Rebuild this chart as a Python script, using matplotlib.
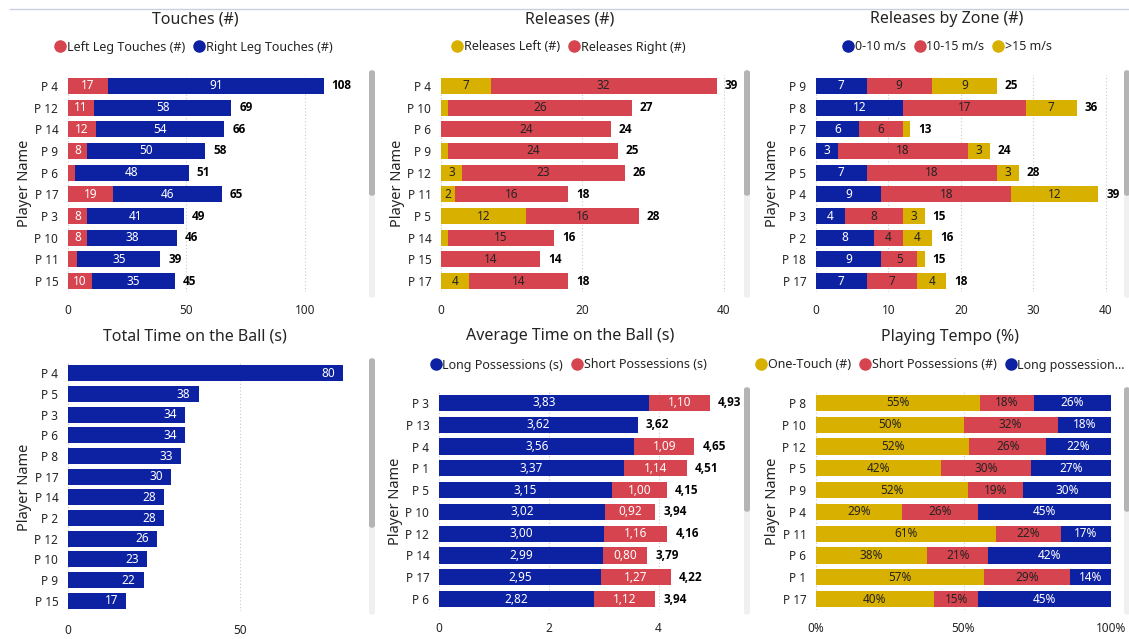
import numpy as np
import matplotlib
matplotlib.use("Agg")
import matplotlib.pyplot as plt
from matplotlib.lines import Line2D
from matplotlib.patches import FancyBboxPatch

plt.rcParams['font.family'] = ['Noto Sans', 'DejaVu Sans']

W, H = 1129, 639
BLUE = '#0d22a3'
RED = '#d6444f'
YELLOW = '#d8b000'
TXT = '#252423'
BOLD_FONT = ['Open Sans', 'Lato', 'DejaVu Sans']

# --- data ---
touch_players = ['P 4', 'P 12', 'P 14', 'P 9', 'P 6', 'P 17', 'P 3', 'P 10', 'P 11', 'P 15']
touch_left = [17, 11, 12, 8, 3, 19, 8, 8, 4, 10]
touch_right = [91, 58, 54, 50, 48, 46, 41, 38, 35, 35]

rel_players = ['P 4', 'P 10', 'P 6', 'P 9', 'P 12', 'P 11', 'P 5', 'P 14', 'P 15', 'P 17']
rel_left = [7, 1, 0, 1, 3, 2, 12, 1, 0, 4]
rel_right = [32, 26, 24, 24, 23, 16, 16, 15, 14, 14]

zone_players = ['P 9', 'P 8', 'P 7', 'P 6', 'P 5', 'P 4', 'P 3', 'P 2', 'P 18', 'P 17']
zone_slow = [7, 12, 6, 3, 7, 9, 4, 8, 9, 7]
zone_mid = [9, 17, 6, 18, 18, 18, 8, 4, 5, 7]
zone_fast = [9, 7, 1, 3, 3, 12, 3, 4, 1, 4]

time_players = ['P 4', 'P 5', 'P 3', 'P 6', 'P 8', 'P 17', 'P 14', 'P 2', 'P 12', 'P 10', 'P 9', 'P 15']
time_total = [80, 38, 34, 34, 33, 30, 28, 28, 26, 23, 22, 17]

avg_players = ['P 3', 'P 13', 'P 4', 'P 1', 'P 5', 'P 10', 'P 12', 'P 14', 'P 17', 'P 6']
avg_long = [3.83, 3.62, 3.56, 3.37, 3.15, 3.02, 3.00, 2.99, 2.95, 2.82]
avg_short = [1.10, 0.00, 1.09, 1.14, 1.00, 0.92, 1.16, 0.80, 1.27, 1.12]

tempo_players = ['P 8', 'P 10', 'P 12', 'P 5', 'P 9', 'P 4', 'P 11', 'P 6', 'P 1', 'P 17']
tempo_one = [55, 50, 52, 42, 52, 29, 61, 38, 57, 40]
tempo_short = [18, 32, 26, 30, 19, 26, 22, 21, 29, 15]
tempo_long = [26, 18, 22, 27, 30, 45, 17, 42, 14, 45]


def box(l, t, r, b):
    return [l / W, 1 - b / H, (r - l) / W, (b - t) / H]


fig = plt.figure(figsize=(W / 100, H / 100), dpi=100)
fig.patch.set_facecolor('white')

# thin rule along the top
fig.add_artist(Line2D([10 / W, 1], [1 - 9 / H, 1 - 9 / H], color='#c9d1dc', lw=1))


def scrollbar(x, top, bottom, thumb_end):
    w = 6
    fig.add_artist(FancyBboxPatch((x / W, 1 - bottom / H), w / W, (bottom - top) / H,
                                  boxstyle='round,pad=0,rounding_size=0.004',
                                  transform=fig.transFigure, fc='#f0f0f0', ec='none'))
    fig.add_artist(FancyBboxPatch((x / W, 1 - thumb_end / H), w / W, (thumb_end - top) / H,
                                  boxstyle='round,pad=0,rounding_size=0.004',
                                  transform=fig.transFigure, fc='#b4b4b4', ec='none'))


def setup(ax, players, xmax, ticks, ticklabels):
    n = len(players)
    ax.set_xlim(0, xmax)
    ax.set_ylim(n - 0.5, -0.5)
    ax.set_yticks(np.arange(n))
    ax.set_yticklabels(players, fontsize=8.5, color=TXT)
    ax.set_xticks(ticks)
    ax.set_xticklabels(ticklabels, fontsize=8.5, color=TXT)
    ax.tick_params(length=0, pad=7)
    ax.tick_params(axis='x', pad=9)
    for s in ax.spines.values():
        s.set_visible(False)
    ax.grid(axis='x', color='#c8c8c8', ls=(0, (1, 2)), lw=0.8)
    ax.set_axisbelow(True)
    ax.set_ylabel('Player Name', fontsize=10.5, color=TXT, labelpad=2)


def stacked(ax, series, colors, lcolors, fmt, px_per_unit, totals=None, total_fmt=None, scale=None):
    n = len(series[0])
    y = np.arange(n)
    left = np.zeros(n)
    for vals, c, lc in zip(series, colors, lcolors):
        vals = np.array(vals, dtype=float)
        widths = vals if scale is None else vals * scale
        ax.barh(y, widths, left=left, height=0.74, color=c, edgecolor='none')
        for i in range(n):
            if widths[i] * px_per_unit >= 12:
                ax.text(left[i] + widths[i] / 2, y[i], fmt(vals[i]), ha='center', va='center',
                        fontsize=8.5, color=lc)
        left = left + widths
    if totals is not None:
        for i in range(n):
            ax.text(left[i] + 8 / px_per_unit, y[i], total_fmt(totals[i]), ha='left', va='center',
                    fontsize=8.5, fontweight='bold', family=BOLD_FONT, color='black', clip_on=False)


def legend(labels, colors, cx, cy):
    handles = [Line2D([], [], marker='o', ls='none', color=c, markersize=8) for c in colors]
    fig.legend(handles, labels, loc='center', bbox_to_anchor=(cx / W, 1 - cy / H), ncol=len(labels),
               frameon=False, fontsize=9, handletextpad=0.05, columnspacing=0.6, labelcolor=TXT,
               borderaxespad=0, handlelength=1.0)


def title(text, cx, cy):
    fig.text(cx / W, 1 - cy / H, text, ha='center', va='center', fontsize=11.5, color=TXT)


integer = lambda v: f'{int(round(v))}'
comma = lambda v: f'{v:.2f}'.replace('.', ',')
pct = lambda v: f'{int(round(v))}%'

# Touches
ax1 = fig.add_axes(box(68, 75, 352, 292))
setup(ax1, touch_players, 120, [0, 50, 100], ['0', '50', '100'])
stacked(ax1, [touch_left, touch_right], [RED, BLUE], ['white', 'white'], integer, 2.37,
        totals=np.add(touch_left, touch_right), total_fmt=integer)
title('Touches (#)', 195, 19)
legend(['Left Leg Touches (#)', 'Right Leg Touches (#)'], [RED, BLUE], 193, 47)
scrollbar(369, 70, 298, 196)

# Releases
ax2 = fig.add_axes(box(441, 75, 738, 292))
setup(ax2, rel_players, 42, [0, 20, 40], ['0', '20', '40'])
stacked(ax2, [rel_left, rel_right], [YELLOW, RED], [TXT, TXT], integer, 7.08,
        totals=np.add(rel_left, rel_right), total_fmt=integer)
title('Releases (#)', 570, 19)
legend(['Releases Left (#)', 'Releases Right (#)'], [YELLOW, RED], 568, 47)
scrollbar(744, 70, 298, 196)

# Releases by zone
ax3 = fig.add_axes(box(816, 75, 1120, 292))
setup(ax3, zone_players, 42, [0, 10, 20, 30, 40], ['0', '10', '20', '30', '40'])
stacked(ax3, [zone_slow, zone_mid, zone_fast], [BLUE, RED, YELLOW], ['white', TXT, TXT], integer, 7.25,
        totals=np.add(np.add(zone_slow, zone_mid), zone_fast), total_fmt=integer)
title('Releases by Zone (#)', 947, 19)
legend(['0-10 m/s', '10-15 m/s', '>15 m/s'], [BLUE, RED, YELLOW], 947, 47)
scrollbar(1124, 70, 298, 196)

# Total time on the ball
ax4 = fig.add_axes(box(68, 363, 360, 611))
setup(ax4, time_players, 85, [0, 50], ['0', '50'])
ax4.barh(np.arange(len(time_total)), time_total, height=0.76, color=BLUE, edgecolor='none')
for i, v in enumerate(time_total):
    ax4.text(v - 8 / 3.44, i, integer(v), ha='right', va='center', fontsize=8.5, color='white')
title('Total Time on the Ball (s)', 195, 337)
scrollbar(369, 358, 615, 528)

# Average time on the ball
ax5 = fig.add_axes(box(439, 392, 730, 610))
setup(ax5, avg_players, 5.3, [0, 2, 4], ['0', '2', '4'])
stacked(ax5, [avg_long, avg_short], [BLUE, RED], ['white', 'white'], comma, 55,
        totals=np.add(avg_long, avg_short), total_fmt=comma)
title('Average Time on the Ball (s)', 570, 336)
legend(['Long Possessions (s)', 'Short Possessions (s)'], [BLUE, RED], 568, 365)
scrollbar(744, 387, 615, 512)

# Playing tempo (100% stacked)
ax6 = fig.add_axes(box(816, 392, 1111, 610))
setup(ax6, tempo_players, 100, [0, 50, 100], ['0%', '50%', '100%'])
tsum = np.add(np.add(tempo_one, tempo_short), tempo_long)
stacked(ax6, [tempo_one, tempo_short, tempo_long], [YELLOW, RED, BLUE], [TXT, TXT, 'white'], pct, 2.95,
        scale=100.0 / tsum)
title('Playing Tempo (%)', 950, 337)
legend(['One-Touch (#)', 'Short Possessions (#)', 'Long possession…'], [YELLOW, RED, BLUE], 940, 365)
scrollbar(1124, 387, 615, 512)

fig.savefig('out.png', dpi=100, facecolor='white')
